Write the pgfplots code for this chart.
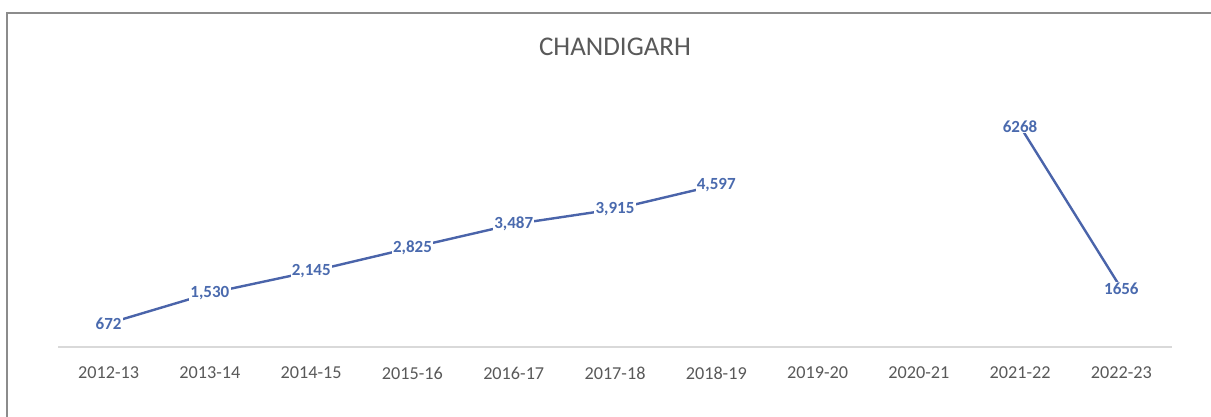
\documentclass[border=0pt]{standalone}
\usepackage{fontspec}
\setmainfont{Carlito}
\usepackage{pgfplots}
\pgfplotsset{compat=1.18}
\usepackage{pgfplotstable}
\definecolor{lineblue}{HTML}{4A64AA}
\definecolor{lblblue}{HTML}{4A6AAE}
\definecolor{txtgray}{HTML}{595959}
\definecolor{axgray}{HTML}{D9D9D9}
\definecolor{framegray}{HTML}{8C8C8C}

\pgfplotstableread{
x y lbl
0 672 672
1 1530 {1,530}
2 2145 {2,145}
3 2825 {2,825}
4 3487 {3,487}
5 3915 {3,915}
6 4597 {4,597}
7 nan x
8 nan x
9 6268 6268
10 1656 1656
}\datatable

\begin{document}
\begin{tikzpicture}
\useasboundingbox (0,0) rectangle (605.5pt,208.5pt);
\fill[white] (0,0) rectangle (605.5pt,208.5pt);
\draw[framegray, line width=0.8pt] (3.5pt,0) -- (3.5pt,202pt) -- (605.5pt,202pt);
\node[text=txtgray, font=\fontsize{13.5}{16}\selectfont] at (307.5pt,185pt) {CHANDIGARH};
\begin{axis}[
  at={(29pt,35pt)}, anchor=south west,
  scale only axis, width=557pt, height=136pt,
  xmin=-0.5, xmax=10.5, ymin=0, ymax=7727,
  axis x line*=bottom, axis y line=none,
  axis line style={axgray, line width=1pt},
  xtick={0,...,10},
  xticklabels={2012-13,2013-14,2014-15,2015-16,2016-17,2017-18,2018-19,2019-20,2020-21,2021-22,2022-23},
  major tick length=0pt,
  ytick=\empty,
  xticklabel style={text=txtgray, font=\fontsize{9.1}{11}\selectfont, yshift=-6.5pt},
  unbounded coords=jump,
  clip=false,
]
\addplot[lineblue, line width=1.2pt, no markers,
  nodes near coords, point meta=explicit symbolic,
  every node near coord/.append style={anchor=center, font=\bfseries\fontsize{8.5}{10}\selectfont, text=lblblue, fill=white, inner sep=0.6pt}]
  table[x=x, y=y, meta=lbl] {\datatable};
\end{axis}
\end{tikzpicture}
\end{document}
